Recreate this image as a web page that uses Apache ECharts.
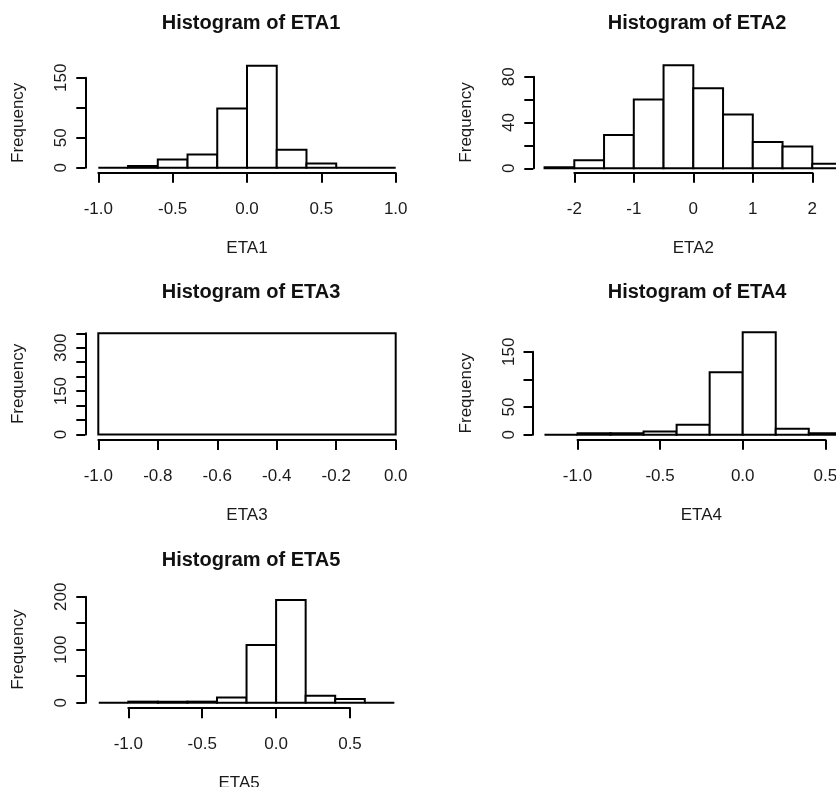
<!DOCTYPE html>
<html>
<head>
<meta charset="utf-8">
<script src="https://cdn.jsdelivr.net/npm/echarts@6/dist/echarts.min.js"></script>
<style>
  html, body { margin: 0; padding: 0; background: #fff; }
  #chart { width: 836px; height: 787px; }
</style>
</head>
<body>
<div id="chart"></div>
<script>
// histogram bins (breaks) and counts
var eta1Breaks = [-1.0, -0.8, -0.6, -0.4, -0.2, 0.0, 0.2, 0.4, 0.6, 0.8, 1.0];
var eta1Counts = [0, 3, 14, 22, 99, 170, 30, 7, 0, 0];
var eta2Breaks = [-2.5, -2.0, -1.5, -1.0, -0.5, 0.0, 0.5, 1.0, 1.5, 2.0, 2.5];
var eta2Counts = [1, 7, 29, 60, 90, 70, 47, 23, 19, 4];
var eta3Breaks = [-1.0, 0.0];
var eta3Counts = [350];
var eta4Breaks = [-1.2, -1.0, -0.8, -0.6, -0.4, -0.2, 0.0, 0.2, 0.4, 0.6];
var eta4Counts = [0, 3, 3, 6, 18, 113, 185, 11, 3];
var eta5Breaks = [-1.2, -1.0, -0.8, -0.6, -0.4, -0.2, 0.0, 0.2, 0.4, 0.6, 0.8];
var eta5Counts = [0, 2, 2, 2, 10, 109, 194, 13, 7, 0];

// axis ticks and the tick labels that are printed
var eta1XTicks = [-1.0, -0.5, 0.0, 0.5, 1.0];
var eta1YTicks = [0, 50, 100, 150];
var eta1YLabels = [0, 50, 150];
var eta2XTicks = [-2, -1, 0, 1, 2];
var eta2YTicks = [0, 20, 40, 60, 80];
var eta2YLabels = [0, 40, 80];
var eta3XTicks = [-1.0, -0.8, -0.6, -0.4, -0.2, 0.0];
var eta3YTicks = [0, 50, 100, 150, 200, 250, 300, 350];
var eta3YLabels = [0, 150, 300];
var eta4XTicks = [-1.0, -0.5, 0.0, 0.5];
var eta4YTicks = [0, 50, 100, 150];
var eta4YLabels = [0, 50, 150];
var eta5XTicks = [-1.0, -0.5, 0.0, 0.5];
var eta5YTicks = [0, 50, 100, 150, 200];
var eta5YLabels = [0, 100, 200];

var names = ['ETA1', 'ETA2', 'ETA3', 'ETA4', 'ETA5'];
var panels = [
  {breaks: eta1Breaks, counts: eta1Counts, xt: eta1XTicks, yt: eta1YTicks, yl: eta1YLabels, dec: 1},
  {breaks: eta2Breaks, counts: eta2Counts, xt: eta2XTicks, yt: eta2YTicks, yl: eta2YLabels, dec: 0},
  {breaks: eta3Breaks, counts: eta3Counts, xt: eta3XTicks, yt: eta3YTicks, yl: eta3YLabels, dec: 1},
  {breaks: eta4Breaks, counts: eta4Counts, xt: eta4XTicks, yt: eta4YTicks, yl: eta4YLabels, dec: 1},
  {breaks: eta5Breaks, counts: eta5Counts, xt: eta5XTicks, yt: eta5YTicks, yl: eta5YLabels, dec: 1}
];

// layout: grid box = tick range box of each panel (pixels)
var layout = [
  {left: 98.3, top: 77.8, width: 297.4, height: 90, xOff: 5, yOff: 13, tx: 246, ty: 8},
  {left: 574.3, top: 76.7, width: 238, height: 91.6, xOff: 4.5, yOff: 41, tx: 692, ty: 8},
  {left: 98.3, top: 333.3, width: 297.4, height: 101.2, xOff: 5.5, yOff: 13, tx: 246, ty: 277},
  {left: 577.5, top: 351.7, width: 247.8, height: 83.1, xOff: 5, yOff: 45, tx: 692, ty: 277},
  {left: 128.3, top: 596.7, width: 221.7, height: 106, xOff: 5.5, yOff: 43, tx: 246, ty: 545}
];

var FONT = 'Liberation Sans, Arial, sans-serif';
var TXT = '#1a1a1a';

function step(arr) { return Math.round((arr[1] - arr[0]) * 1e6) / 1e6; }

var grids = [], xAxes = [], yAxes = [], series = [], titles = [];
panels.forEach(function (p, i) {
  var L = layout[i];
  grids.push({left: L.left, top: L.top, width: L.width, height: L.height,
              containLabel: false, outerBoundsMode: 'none'});
  titles.push({
    text: 'Histogram of ' + names[i], left: L.tx, top: L.ty, textAlign: 'center',
    textStyle: {fontFamily: FONT, fontSize: 20, fontWeight: 'bold', color: '#111'}
  });
  xAxes.push({
    type: 'value', gridIndex: i, position: 'bottom', offset: L.xOff,
    min: p.xt[0], max: p.xt[p.xt.length - 1], interval: step(p.xt),
    name: names[i], nameLocation: 'middle', nameGap: 67,
    nameTextStyle: {fontFamily: FONT, fontSize: 17, color: TXT},
    splitLine: {show: false},
    axisLine: {show: true, onZero: false, lineStyle: {color: '#000', width: 2}},
    axisTick: {show: true, length: 10, lineStyle: {color: '#000', width: 2}},
    axisLabel: {
      margin: 28, fontFamily: FONT, fontSize: 17, color: TXT,
      showMinLabel: true, showMaxLabel: true,
      formatter: function (v) { return v.toFixed(p.dec); }
    }
  });
  yAxes.push({
    type: 'value', gridIndex: i, position: 'left', offset: L.yOff,
    min: p.yt[0], max: p.yt[p.yt.length - 1], interval: step(p.yt),
    name: 'Frequency', nameLocation: 'middle', nameGap: 58, nameRotate: 90,
    nameTextStyle: {fontFamily: FONT, fontSize: 17, color: TXT},
    splitLine: {show: false},
    axisLine: {show: true, onZero: false, lineStyle: {color: '#000', width: 2}},
    axisTick: {show: true, length: 9, lineStyle: {color: '#000', width: 2}},
    axisLabel: {
      rotate: 90, margin: 15, fontFamily: FONT, fontSize: 17, color: TXT,
      showMinLabel: true, showMaxLabel: true,
      formatter: function (v) {
        return p.yl.some(function (l) { return Math.abs(l - v) < 1e-9; }) ? String(v) : '';
      }
    }
  });
  var data = p.counts.map(function (c, k) { return [p.breaks[k], p.breaks[k + 1], c]; });
  series.push({
    type: 'custom', xAxisIndex: i, yAxisIndex: i, clip: false, silent: true,
    encode: {x: [0, 1], y: 2},
    data: data,
    renderItem: function (params, api) {
      var a = api.coord([api.value(0), api.value(2)]);
      var b = api.coord([api.value(1), 0]);
      return {
        type: 'rect',
        shape: {x: a[0], y: a[1], width: b[0] - a[0], height: b[1] - a[1]},
        style: {fill: '#fff', stroke: '#000', lineWidth: 2}
      };
    }
  });
});

var chart = echarts.init(document.getElementById('chart'), null, {renderer: 'canvas'});
chart.setOption({
  backgroundColor: '#fff',
  animation: false,
  title: titles,
  grid: grids,
  xAxis: xAxes,
  yAxis: yAxes,
  series: series
});
</script>
</body>
</html>
